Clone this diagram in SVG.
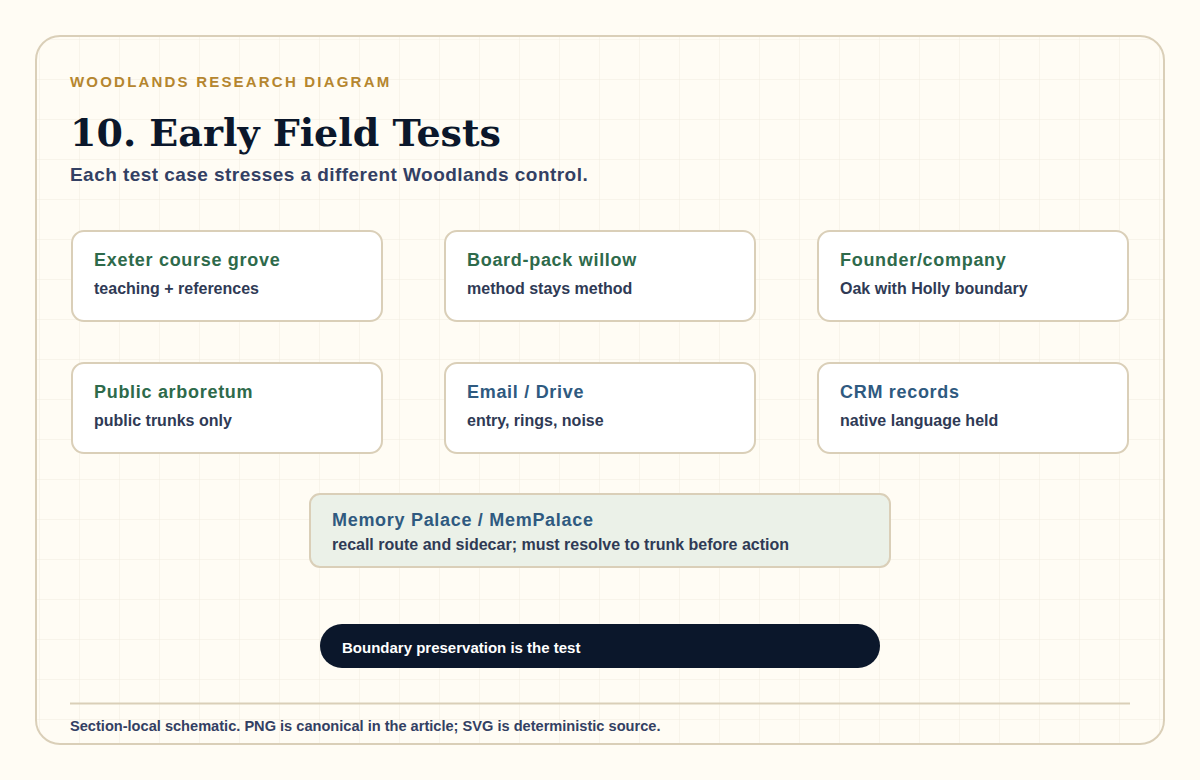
<svg xmlns="http://www.w3.org/2000/svg" width="1200" height="780" viewBox="0 0 1200 780">
<defs>
<pattern id="grid" width="40" height="40" patternUnits="userSpaceOnUse">
<path d="M40 0 V40 M0 40 H40" fill="none" stroke="#f1ece0" stroke-width="1"/>
</pattern>
<style>
.card{fill:#ffffff;stroke:#dacfb8;stroke-width:2}
.ct{font-family:"Liberation Sans",Arial,sans-serif;font-weight:bold;font-size:18px;letter-spacing:0.7px}
.green{fill:#2e6a4b}
.blue{fill:#2f5a80}
.cs{font-family:"Liberation Sans",Arial,sans-serif;font-weight:bold;font-size:16px;fill:#2f3a55}
</style>
</defs>
<rect width="1200" height="780" fill="#fffcf4"/>
<rect x="36" y="36" width="1128" height="708" rx="24" fill="#fffcf4"/>
<rect x="36" y="36" width="1128" height="708" rx="24" fill="url(#grid)" stroke="#dacfb8" stroke-width="2"/>
<text x="70" y="87" font-family="'Liberation Sans',Arial,sans-serif" font-weight="bold" font-size="15" letter-spacing="2.2" fill="#b5862f">WOODLANDS RESEARCH DIAGRAM</text>
<text x="70" y="146" font-family="'DejaVu Serif','Liberation Serif',serif" font-weight="bold" font-size="38" fill="#0b172b">10. Early Field Tests</text>
<text x="70" y="181" font-family="'Liberation Sans',Arial,sans-serif" font-weight="bold" font-size="19" letter-spacing="0.45" fill="#334063">Each test case stresses a different Woodlands control.</text>
<g id="exeter"><rect class="card" x="72" y="231" width="310" height="90" rx="12"/><text class="ct green" x="94" y="266">Exeter course grove</text><text class="cs" x="94" y="294">teaching + references</text></g>
<g id="boardpack"><rect class="card" x="445" y="231" width="310" height="90" rx="12"/><text class="ct green" x="467" y="266">Board-pack willow</text><text class="cs" x="467" y="294">method stays method</text></g>
<g id="founder"><rect class="card" x="818" y="231" width="310" height="90" rx="12"/><text class="ct green" x="840" y="266">Founder/company</text><text class="cs" x="840" y="294">Oak with Holly boundary</text></g>
<g id="arboretum"><rect class="card" x="72" y="363" width="310" height="90" rx="12"/><text class="ct green" x="94" y="398">Public arboretum</text><text class="cs" x="94" y="426">public trunks only</text></g>
<g id="email"><rect class="card" x="445" y="363" width="310" height="90" rx="12"/><text class="ct blue" x="467" y="398">Email / Drive</text><text class="cs" x="467" y="426">entry, rings, noise</text></g>
<g id="crm"><rect class="card" x="818" y="363" width="310" height="90" rx="12"/><text class="ct blue" x="840" y="398">CRM records</text><text class="cs" x="840" y="426">native language held</text></g>
<g id="memory"><rect x="310" y="494" width="580" height="73" rx="10" fill="#ebf1e8" stroke="#dacfb8" stroke-width="2"/><text class="ct blue" x="332" y="526">Memory Palace / MemPalace</text><text class="cs" x="332" y="550">recall route and sidecar; must resolve to trunk before action</text></g>
<g id="connectors"></g>
<g id="banner"><rect x="320" y="624" width="560" height="44" rx="22" fill="#0b172b"/><text x="342" y="653" font-family="'Liberation Sans',Arial,sans-serif" font-weight="bold" font-size="15" fill="#ffffff">Boundary preservation is the test</text></g>
<line x1="70" y1="703.5" x2="1130" y2="703.5" stroke="#dacfb8" stroke-width="2"/>
<text x="70" y="731" font-family="'Liberation Sans',Arial,sans-serif" font-weight="bold" font-size="14.6" fill="#334063">Section-local schematic. PNG is canonical in the article; SVG is deterministic source.</text>
</svg>
